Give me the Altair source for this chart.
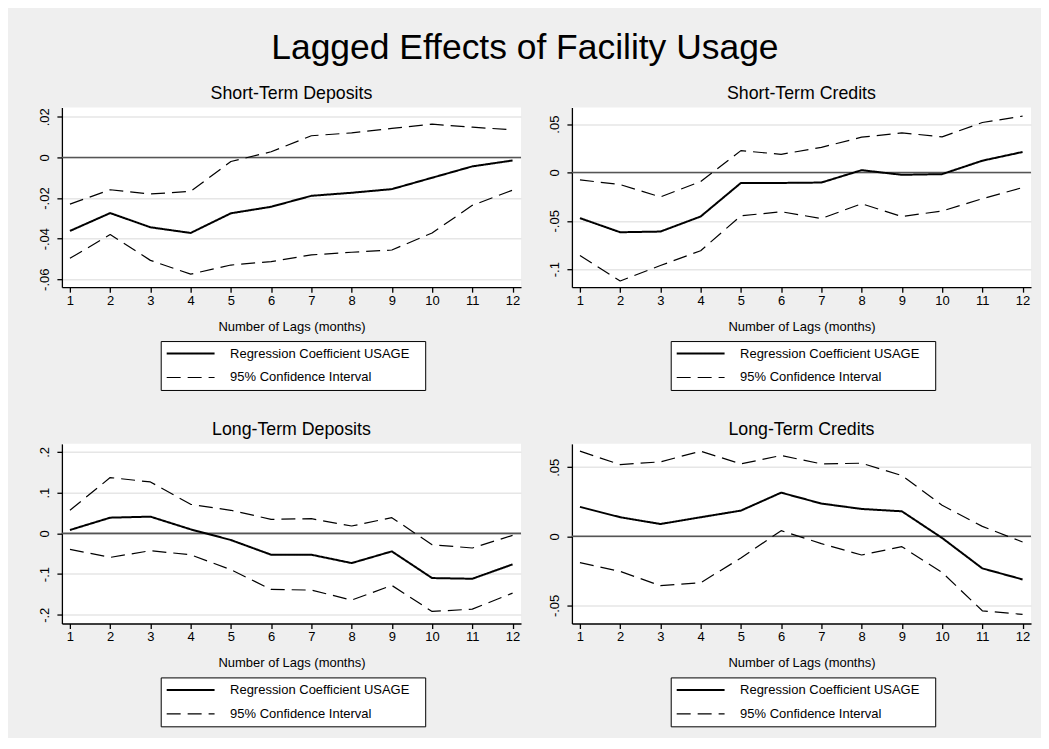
import json
import altair as alt
import pandas as pd

# ---------------- data ----------------
lags = list(range(1, 13))

# Short-Term Deposits
std_coef = [-0.0362, -0.0274, -0.0344, -0.0372, -0.0275, -0.0243, -0.0189, -0.0174, -0.0156, -0.0100, -0.0044, -0.0015]
std_hi = [-0.0230, -0.0159, -0.0180, -0.0167, -0.0020, 0.0028, 0.0107, 0.0121, 0.0143, 0.0164, 0.0149, 0.0136]
std_lo = [-0.0497, -0.0380, -0.0507, -0.0575, -0.0530, -0.0513, -0.0480, -0.0467, -0.0456, -0.0372, -0.0236, -0.0161]

# Short-Term Credits
stc_coef = [-0.0472, -0.0618, -0.0611, -0.0455, -0.0108, -0.0108, -0.0104, 0.0024, -0.0024, -0.0017, 0.0122, 0.0212]
stc_hi = [-0.0076, -0.0125, -0.0253, -0.0094, 0.0226, 0.0188, 0.0260, 0.0365, 0.0410, 0.0368, 0.0517, 0.0583]
stc_lo = [-0.0858, -0.1122, -0.0962, -0.0809, -0.0448, -0.0406, -0.0476, -0.0323, -0.0455, -0.0399, -0.0271, -0.0156]

# Long-Term Deposits
ltd_coef = [0.0082, 0.0385, 0.0410, 0.0098, -0.0164, -0.0525, -0.0525, -0.0730, -0.0443, -0.1098, -0.1115, -0.0762]
ltd_hi = [0.0566, 0.1369, 0.1262, 0.0713, 0.0566, 0.0344, 0.0360, 0.0180, 0.0385, -0.0279, -0.0360, -0.0049]
ltd_lo = [-0.0393, -0.0590, -0.0426, -0.0525, -0.0893, -0.1377, -0.1393, -0.1639, -0.1279, -0.1918, -0.1861, -0.1467]

# Long-Term Credits
ltc_coef = [0.0213, 0.0138, 0.0089, 0.0138, 0.0186, 0.0316, 0.0237, 0.0198, 0.0181, -0.0012, -0.0232, -0.0312]
ltc_hi = [0.0616, 0.0519, 0.0539, 0.0616, 0.0524, 0.0585, 0.0524, 0.0529, 0.0440, 0.0225, 0.0072, -0.0041]
ltc_lo = [-0.0191, -0.0254, -0.0357, -0.0336, -0.0157, 0.0041, -0.0053, -0.0135, -0.0075, -0.0261, -0.0539, -0.0565]

panel_titles = ["Short-Term Deposits", "Short-Term Credits", "Long-Term Deposits", "Long-Term Credits"]

std_ticks = [-0.06, -0.04, -0.02, 0, 0.02]
std_labels = ["-.06", "-.04", "-.02", "0", ".02"]
stc_ticks = [-0.1, -0.05, 0, 0.05]
stc_labels = ["-.1", "-.05", "0", ".05"]
ltd_ticks = [-0.2, -0.1, 0, 0.1, 0.2]
ltd_labels = ["-.2", "-.1", "0", ".1", ".2"]
ltc_ticks = [-0.05, 0, 0.05]
ltc_labels = ["-.05", "0", ".05"]

std_domain = [-0.0639, 0.0246]
stc_domain = [-0.1186, 0.0672]
ltd_domain = [-0.2214, 0.2197]
ltc_domain = [-0.0631, 0.0669]
x_domain = [0.8, 12.21]

COEF = "Regression Coefficient USAGE"
CI = "95% Confidence Interval"
x_title = "Number of Lags (months)"
main_title = "Lagged Effects of Facility Usage"

W, H = 460, 180
FONT = "Liberation Sans"


def panel(title, coef, lo, hi, ticks, labels, domain):
    rows = []
    for band, name, vals in [("coef", COEF, coef), ("hi", CI, hi), ("lo", CI, lo)]:
        for l, v in zip(lags, vals):
            rows.append({"lag": l, "value": v, "series": name, "band": band})
    df = pd.DataFrame(rows)
    label_expr = f"{json.dumps(labels)}[indexof({json.dumps(ticks)}, datum.value)]"
    y = alt.Y(
        "value:Q",
        scale=alt.Scale(domain=domain, nice=False, zero=False),
        axis=alt.Axis(values=ticks, labelExpr=label_expr, title=None, grid=True),
    )
    x = alt.X(
        "lag:Q",
        scale=alt.Scale(domain=x_domain, nice=False, zero=False),
        axis=alt.Axis(values=lags, format="d", title=x_title, grid=False),
    )
    leg = alt.Legend(
        orient="none", legendX=99, legendY=234, title=None,
        strokeColor="black", fillColor="white", padding=5,
        symbolType="M-1,0H6.38", symbolSize=169, labelOffset=49.5, rowPadding=9,
        labelFontSize=13, labelColor="black", labelLimit=300,
        labelExpr="datum.label + '\u2800'", symbolStrokeColor="black",
        direction="vertical",
    )
    lines = alt.Chart(df).mark_line(color="black", strokeJoin="round").encode(
        x=x,
        y=y,
        strokeDash=alt.StrokeDash(
            "series:N",
            scale=alt.Scale(domain=[COEF, CI], range=[[1, 0], [14, 7]]),
            legend=leg,
        ),
        strokeWidth=alt.StrokeWidth(
            "series:N",
            scale=alt.Scale(domain=[COEF, CI], range=[2, 1.2]),
            legend=leg,
        ),
        detail="band:N",
        order="lag:Q",
    )
    zero = alt.Chart(pd.DataFrame({"z": [0]})).mark_rule(color="#555555", strokeWidth=1.6).encode(
        y=alt.datum(0)
    )
    return alt.layer(zero, lines).properties(
        width=W,
        height=H,
        title=alt.TitleParams(title, fontSize=17.8, fontWeight="normal", color="black", offset=5, anchor="middle", font=FONT),
    )


p1 = panel(panel_titles[0], std_coef, std_lo, std_hi, std_ticks, std_labels, std_domain)
p2 = panel(panel_titles[1], stc_coef, stc_lo, stc_hi, stc_ticks, stc_labels, stc_domain)
p3 = panel(panel_titles[2], ltd_coef, ltd_lo, ltd_hi, ltd_ticks, ltd_labels, ltd_domain)
p4 = panel(panel_titles[3], ltc_coef, ltc_lo, ltc_hi, ltc_ticks, ltc_labels, ltc_domain)

chart = (
    alt.concat(p1, p2, p3, p4, columns=2, spacing={"row": 30, "column": 20})
    .resolve_scale(y="independent", strokeDash="independent", strokeWidth="independent")
    .resolve_legend(strokeDash="independent", strokeWidth="independent")
    .properties(
        title=alt.TitleParams(main_title, fontSize=35.5, fontWeight="normal", color="black",
                              offset=18, anchor="middle", dx=-7, font=FONT),
        padding={"left": 24, "top": 22, "right": 9, "bottom": 10},
    )
    .configure(font=FONT, background="#efefef")
    .configure_view(fill="white", strokeWidth=0)
    .configure_axis(
        domainColor="black", domainWidth=1.3, tickColor="black", tickWidth=1.3, tickSize=5,
        labelColor="black", labelFontSize=13, labelFont=FONT, labelFlush=False, labelOverlap=False,
        titleFontSize=13, titleFontWeight="normal", titleColor="black", titleFont=FONT,
        gridColor="#e6e6e6", gridWidth=1.5,
    )
    .configure_axisY(labelAngle=270, labelAlign="center", labelBaseline="bottom", labelPadding=5,
                     minExtent=30, maxExtent=30)
    .configure_axisX(labelPadding=2, titlePadding=13)
)

chart.save("out.html", embed_options={"renderer": "svg", "actions": False})
